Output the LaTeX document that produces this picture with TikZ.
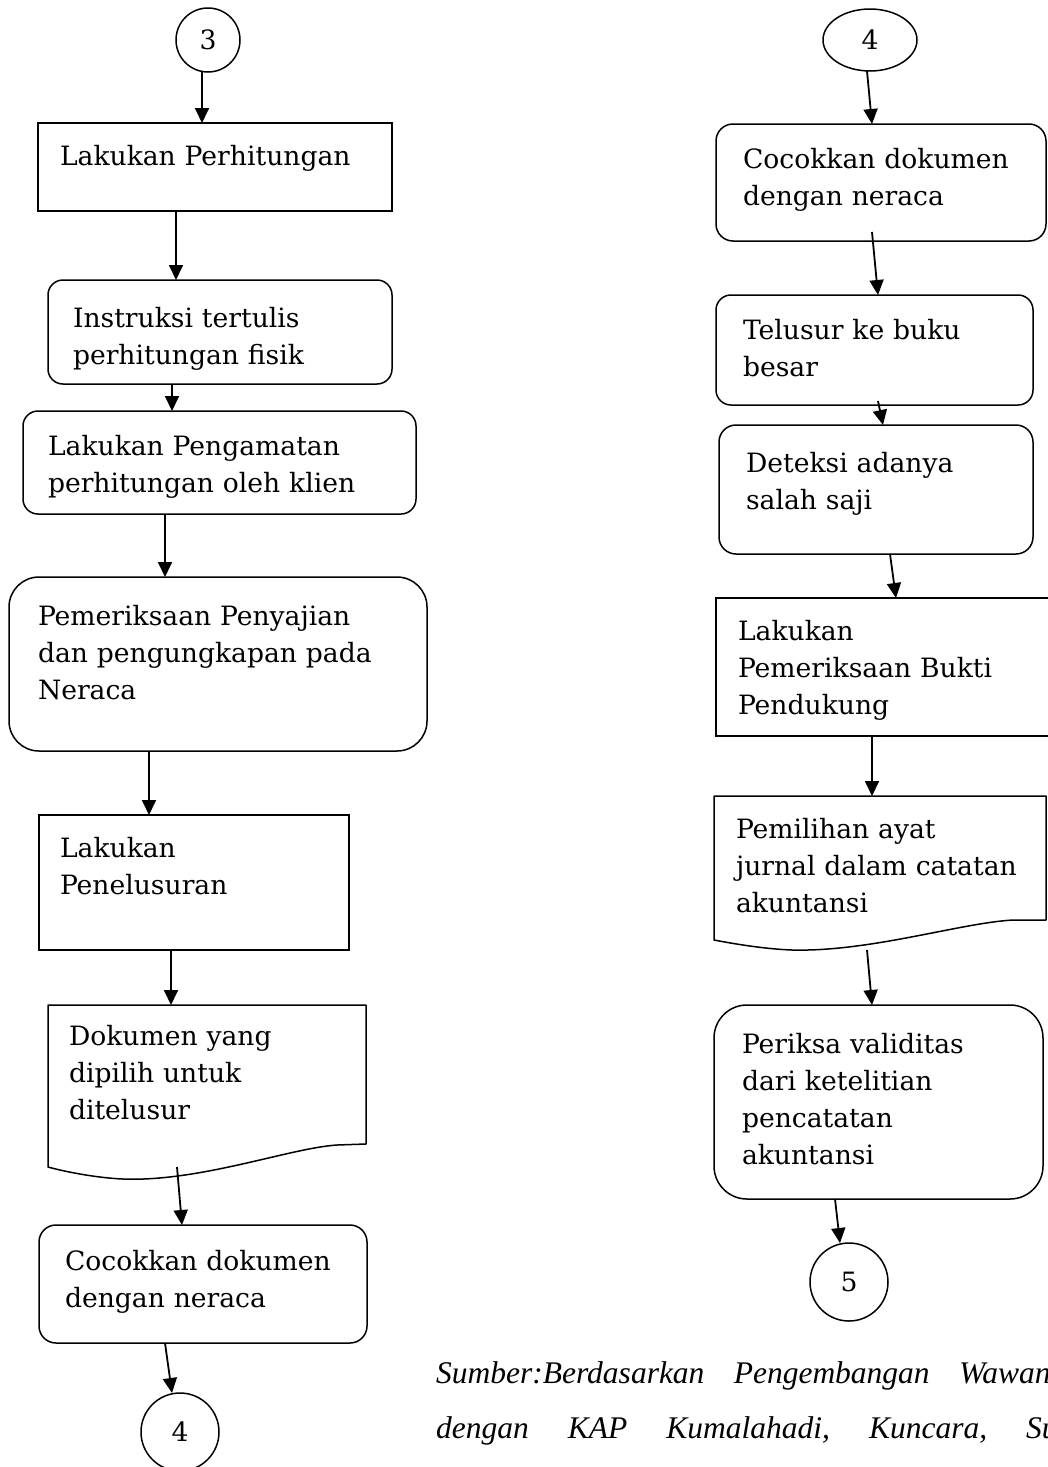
\documentclass[tikz,border=0pt]{standalone}
\usepackage{fontspec}
\setmainfont{DejaVu Serif}
\newfontfamily\sourcefont{Liberation Serif}
\usetikzlibrary{arrows.meta,shapes.geometric}
\definecolor{flowink}{HTML}{000000}

\tikzset{
  flowtext/.style={font=\fontsize{26.6}{37}\selectfont,align=left,
    inner ysep=0pt,outer sep=0pt,anchor=base west},
  procbox/.style={flowtext,draw=flowink,line width=1.5pt},
  roundbox/.style={procbox,rounded corners=#1},
  docbox/.style={flowtext},
  docline/.style={draw=flowink,line width=1.5pt,line join=round},
  connector/.style={draw=flowink,circle,line width=1.5pt,inner sep=0pt,
    outer sep=0pt,font=\fontsize{26.6}{37}\selectfont},
  flowarrow/.style={-{Triangle[length=15pt,width=14pt]},line width=1.8pt,flowink},
  sourcetext/.style={font=\sourcefont\itshape\fontsize{31.5}{40}\selectfont,
    inner sep=0pt,anchor=base west}
}

\begin{document}
\begin{tikzpicture}[x=1pt,y=-1pt]

  \useasboundingbox (0,0) rectangle (1047,1467);

  % ---- Left column -------------------------------------------
  \node[connector,minimum size=64pt] (c3) at (208,40) {3};

  \node[procbox,inner xsep=22pt,text width=310pt,text height=42pt,text depth=46pt]
    (b1) at (38,165) {Lakukan Perhitungan};

  \node[roundbox=15pt,inner xsep=25pt,text width=294pt,text height=47pt,text depth=57pt]
    (b2) at (48,327) {Instruksi tertulis\\perhitungan fisik};

  \node[roundbox=15pt,inner xsep=25pt,text width=343pt,text height=44pt,text depth=59pt]
    (b3) at (23,455) {Lakukan Pengamatan\\perhitungan oleh klien};

  \node[roundbox=30pt,inner xsep=29pt,text width=360pt,text height=48pt,text depth=126pt]
    (b4) at (9,625) {Pemeriksaan Penyajian\\dan pengungkapan pada\\Neraca};

  \node[procbox,inner xsep=21pt,text width=268pt,text height=42pt,text depth=93pt]
    (b5) at (39,857) {Lakukan\\Penelusuran};

  % document with wavy bottom
  \node[docbox,inner xsep=21pt,text width=276pt,text height=40pt,text depth=122pt]
    (d1) at (48,1045) {Dokumen yang\\dipilih untuk\\ditelusur};
  \draw[docline] (48,1005) -- (366,1005) -- (366,1144) -- (337,1145)
    .. controls (290,1148) and (200,1182) .. (123,1179)
    .. controls (100,1178) and (70,1173) .. (48,1167) -- cycle;

  \node[roundbox=17pt,inner xsep=26pt,text width=276pt,text height=45pt,text depth=73pt]
    (b6) at (39,1270) {Cocokkan dokumen\\dengan neraca};

  \node[connector,minimum size=78pt] (c4a) at (180,1432) {4};

  % ---- Right column ------------------------------------------
  \node[connector,ellipse,minimum width=94pt,minimum height=62pt] (c4b) at (870,40) {4};

  \node[roundbox=17pt,inner xsep=27pt,text width=276pt,text height=44pt,text depth=73pt]
    (r1) at (716,168) {Cocokkan dokumen\\dengan neraca};

  \node[roundbox=15pt,inner xsep=27pt,text width=263pt,text height=44pt,text depth=66pt]
    (r2) at (716,339) {Telusur ke buku\\besar};

  \node[roundbox=17pt,inner xsep=27pt,text width=260pt,text height=47pt,text depth=82pt]
    (r3) at (719,472) {Deteksi adanya\\salah saji};

  \node[procbox,inner xsep=22pt,text width=310pt,text height=42pt,text depth=96pt]
    (r4) at (716,640) {Lakukan\\Pemeriksaan Bukti\\Pendukung};

  % document with wavy bottom
  \node[docbox,inner xsep=22pt,text width=288pt,text height=42pt,text depth=102pt]
    (d2) at (714,838) {Pemilihan ayat\\jurnal dalam catatan\\akuntansi};
  \draw[docline] (714,796) -- (1046,796) -- (1046,920) -- (1013,920)
    .. controls (960,923) and (870,952) .. (792,950)
    .. controls (765,949) and (735,944) .. (714,940) -- cycle;

  \node[roundbox=33pt,inner xsep=28pt,text width=273pt,text height=48pt,text depth=146pt]
    (r5) at (714,1053) {Periksa validitas\\dari ketelitian\\pencatatan\\akuntansi};

  \node[connector,minimum size=78pt] (c5) at (849,1282) {5};

  % ---- Arrows ------------------------------------------------
  \draw[flowarrow] ([xshift=-6pt]c3.south) -- ([xshift=-13pt]b1.north);
  \draw[flowarrow] ([xshift=-39pt]b1.south) -- ([xshift=-44pt]b2.north);
  \draw[flowarrow] ([xshift=-48pt]b2.south) -- ([xshift=-47.5pt]b3.north);
  \draw[flowarrow] ([xshift=-54.5pt]b3.south) -- ([xshift=-53pt]b4.north);
  \draw[flowarrow] ([xshift=-69pt]b4.south) -- ([xshift=-45pt]b5.north);
  \draw[flowarrow] ([xshift=-23pt]b5.south) -- ([xshift=-36pt]d1.north);
  \draw[flowarrow] ([xshift=-30pt]d1.south) -- ([xshift=-21pt]b6.north);
  \draw[flowarrow] ([xshift=-38pt]b6.south) -- ([xshift=-8pt]c4a.north);

  \draw[flowarrow] ([xshift=-3pt]c4b.south) -- ([xshift=-9pt]r1.north);
  \draw[flowarrow] ([xshift=-9pt,yshift=9pt]r1.south) -- ([xshift=3.5pt]r2.north);
  \draw[flowarrow] ([xshift=3.5pt,yshift=4pt]r2.south) -- ([xshift=7pt]r3.north);
  \draw[flowarrow] ([xshift=14pt]r3.south) -- ([xshift=3pt]r4.north);
  \draw[flowarrow] ([xshift=-21pt]r4.south) -- ([xshift=-8pt]d2.north);
  \draw[flowarrow] ([xshift=-13pt,yshift=-10pt]d2.south) -- ([xshift=-6.5pt]r5.north);
  \draw[flowarrow] ([xshift=-43.5pt]r5.south) -- ([xshift=-9pt]c5.north);

  % ---- Source note -------------------------------------------
  \node[sourcetext] (src1) at (436,1383)
    {\hbox to 614.5pt{Sumber:Berdasarkan\hfill Pengembangan\hfill Wawan}};
  \node[sourcetext] (src2) at (436,1438)
    {\hbox to 621.5pt{dengan\hfill KAP\hfill Kumalahadi,\hfill Kuncara,\hfill Su}};

\end{tikzpicture}
\end{document}
